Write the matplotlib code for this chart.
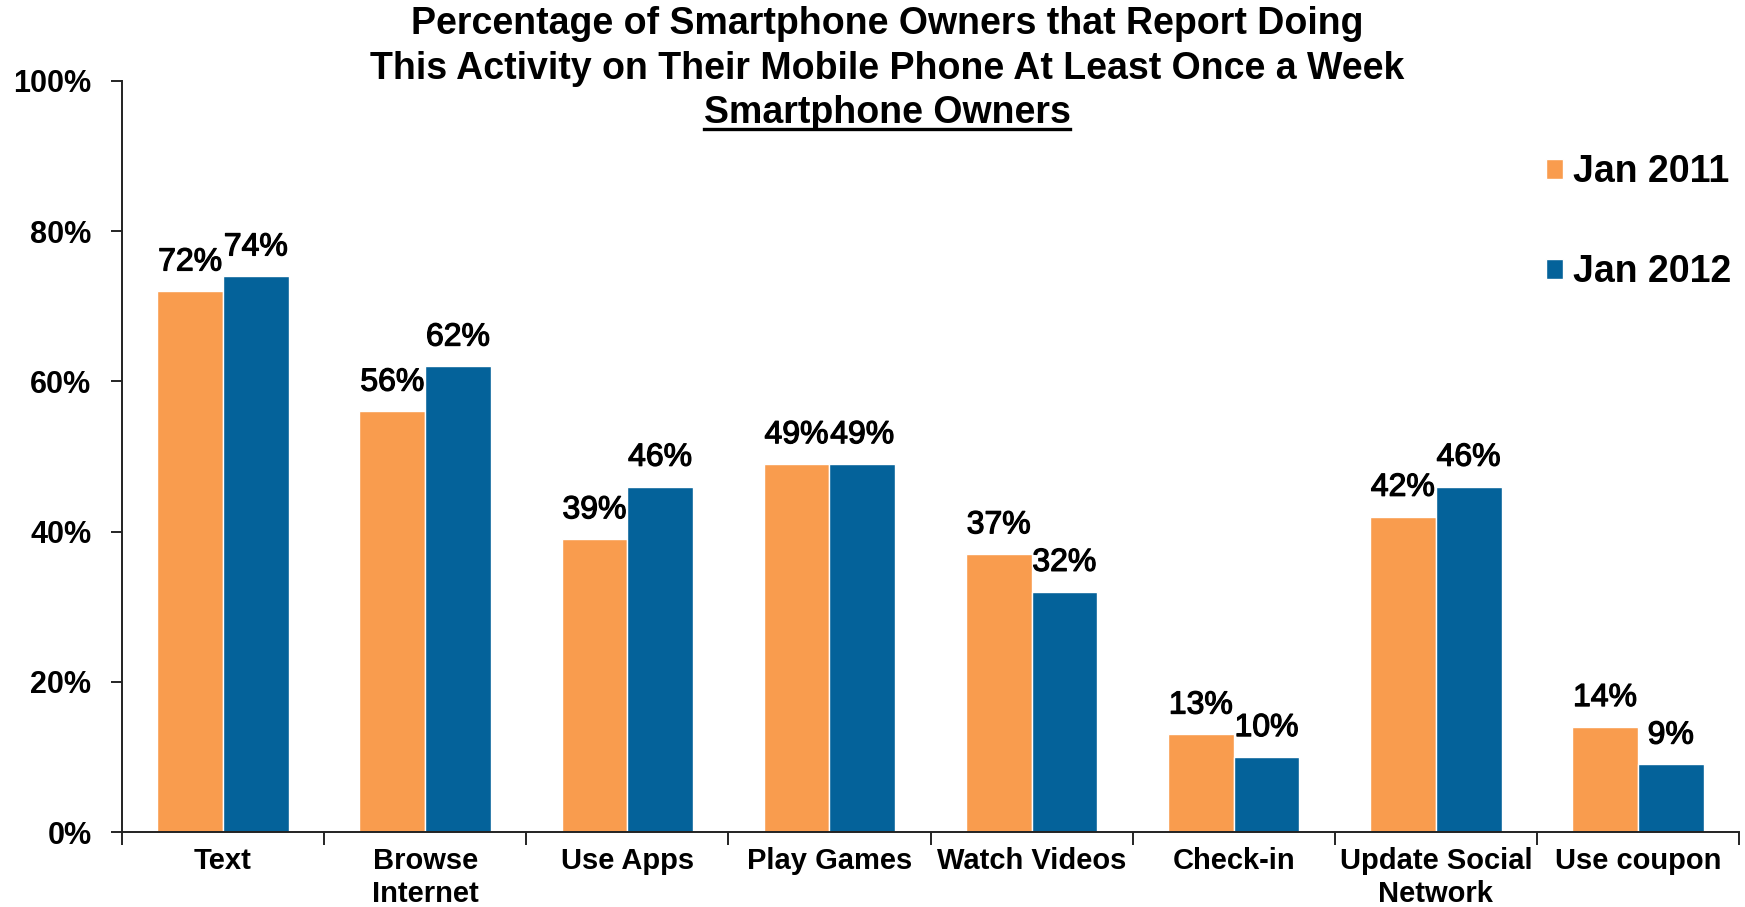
import matplotlib
matplotlib.use("Agg")
import matplotlib.pyplot as plt
import matplotlib.patheffects as pe
from matplotlib.patches import Patch
from matplotlib.lines import Line2D
import numpy as np

categories = ["Text", "Browse\nInternet", "Use Apps", "Play Games", "Watch Videos",
              "Check-in", "Update Social\nNetwork", "Use coupon"]
jan_2011 = [72, 56, 39, 49, 37, 13, 42, 14]
jan_2012 = [74, 62, 46, 49, 32, 10, 46, 9]
series_names = ["Jan 2011", "Jan 2012"]
y_ticks = [0, 20, 40, 60, 80, 100]
y_tick_labels = ["0%", "20%", "40%", "60%", "80%", "100%"]
title_lines = ["Percentage of Smartphone Owners that Report Doing",
               "This Activity on Their Mobile Phone At Least Once a Week",
               "Smartphone Owners"]

ORANGE = "#F99C4E"
BLUE = "#04629A"
FONT = ["Liberation Sans", "DejaVu Sans"]

plt.rcParams["font.family"] = FONT

fig = plt.figure(figsize=(17.45, 9.07), dpi=100)
ax = fig.add_axes([122 / 1745, 1 - 832 / 907, (1739 - 122) / 1745, (832 - 81) / 907])

x = np.arange(len(categories))
w = 0.325
b1 = ax.bar(x - w / 2, jan_2011, w, color=ORANGE, edgecolor="white", linewidth=1.0, label=series_names[0])
b2 = ax.bar(x + w / 2, jan_2012, w, color=BLUE, edgecolor="white", linewidth=1.0, label=series_names[1])

# value labels: regular weight, slightly thickened
heavy = [pe.withStroke(linewidth=0.9, foreground="black")]
for bars, vals in ((b1, jan_2011), (b2, jan_2012)):
    for rect, v in zip(bars, vals):
        ax.annotate(f"{v}%", (rect.get_x() + rect.get_width() / 2, v),
                    xytext=(0, 15), textcoords="offset points",
                    ha="center", va="baseline", fontsize=23, color="black",
                    path_effects=heavy)

ax.set_xlim(-0.5, len(categories) - 0.5)
ax.set_ylim(0, 100)
ax.set_yticks(y_ticks)
ax.set_yticklabels(y_tick_labels, fontsize=22, fontweight="bold")
ax.tick_params(axis="y", direction="out", length=8, width=1.2, pad=14)

ax.set_xticks(x)
ax.set_xticklabels(categories, fontsize=21, fontweight="bold", linespacing=1.2)
ax.tick_params(axis="x", which="major", length=0, pad=11)
ax.set_xticks(np.arange(-0.5, len(categories)), minor=True)
ax.tick_params(axis="x", which="minor", direction="out", length=9, width=1.2)

for s in ("top", "right"):
    ax.spines[s].set_visible(False)
for s in ("left", "bottom"):
    ax.spines[s].set_linewidth(1.4)
    ax.spines[s].set_color("#222222")

handles = [Patch(facecolor=ORANGE, edgecolor="white"), Patch(facecolor=BLUE, edgecolor="white")]
fig.legend(handles, series_names, loc="upper left", bbox_to_anchor=(1546 / 1745, 1 - 154 / 907),
           frameon=False, prop={"weight": "bold", "size": 27},
           borderpad=0, borderaxespad=0,
           handlelength=0.45, handleheight=0.45, handletextpad=0.28, labelspacing=1.72)

cx = 887 / 1745
ys = [24, 69, 113]
texts = []
for line, yy in zip(title_lines, ys):
    t = fig.text(cx, 1 - yy / 907, line, ha="center", va="center", fontsize=27,
                 fontweight="bold")
    texts.append(t)

fig.canvas.draw()
bb = texts[2].get_window_extent().transformed(fig.transFigure.inverted())
fig.add_artist(Line2D([bb.x0, bb.x1], [bb.y0 + 0.002, bb.y0 + 0.002], transform=fig.transFigure,
                      color="black", linewidth=2.4))

fig.savefig("out.png", dpi=100)
